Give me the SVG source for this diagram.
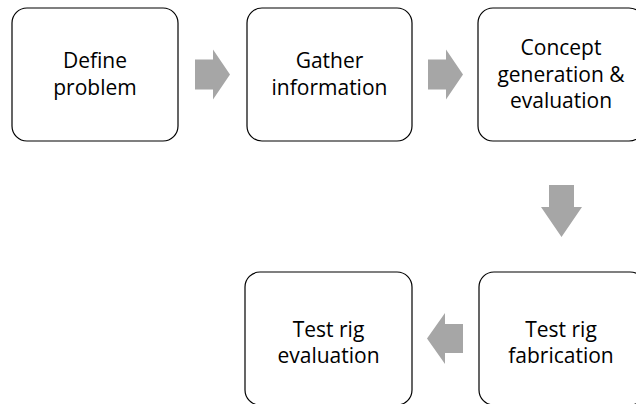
<svg xmlns="http://www.w3.org/2000/svg" width="636" height="404" viewBox="0 0 636 404">
<style>
.box{fill:#ffffff;stroke:#000000;stroke-width:1.2}
.lbl{font-family:"Open Sans","Liberation Sans",sans-serif;font-size:21px;fill:#000000;text-anchor:middle}
.arr{fill:#a6a6a6}
</style>
<rect width="636" height="404" fill="#ffffff"/>
<g id="connectors">
<polygon class="arr" points="195,59.5 213,59.5 213,49.5 230,74.5 213,99.5 213,89.5 195,89.5"/>
<polygon class="arr" points="428,59.5 446,59.5 446,49.5 463,74.5 446,99.5 446,89.5 428,89.5"/>
<polygon class="arr" points="549,185 574,185 574,207 582,207 561.5,237 541,207 549,207"/>
<polygon class="arr" points="463,324 445,324 445,313 427,338.5 445,364 445,353 463,353"/>
</g>
<g id="n1">
<rect class="box" x="12" y="8" width="166" height="133" rx="15"/>
<text class="lbl" x="95" y="68">Define</text>
<text class="lbl" x="95" y="95">problem</text>
</g>
<g id="n2">
<rect class="box" x="247" y="8" width="165" height="133" rx="15"/>
<text class="lbl" x="329.5" y="68">Gather</text>
<text class="lbl" x="329.5" y="95">information</text>
</g>
<g id="n3">
<rect class="box" x="478" y="8" width="166" height="133" rx="15"/>
<text class="lbl" x="561" y="55">Concept</text>
<text class="lbl" x="561" y="82">generation &amp;</text>
<text class="lbl" x="561" y="108">evaluation</text>
</g>
<g id="n4">
<rect class="box" x="479" y="272" width="166" height="133" rx="15"/>
<text class="lbl" x="561" y="337">Test rig</text>
<text class="lbl" x="561" y="363">fabrication</text>
</g>
<g id="n5">
<rect class="box" x="245" y="272" width="167" height="133" rx="15"/>
<text class="lbl" x="328.5" y="337">Test rig</text>
<text class="lbl" x="328.5" y="363">evaluation</text>
</g>
</svg>
